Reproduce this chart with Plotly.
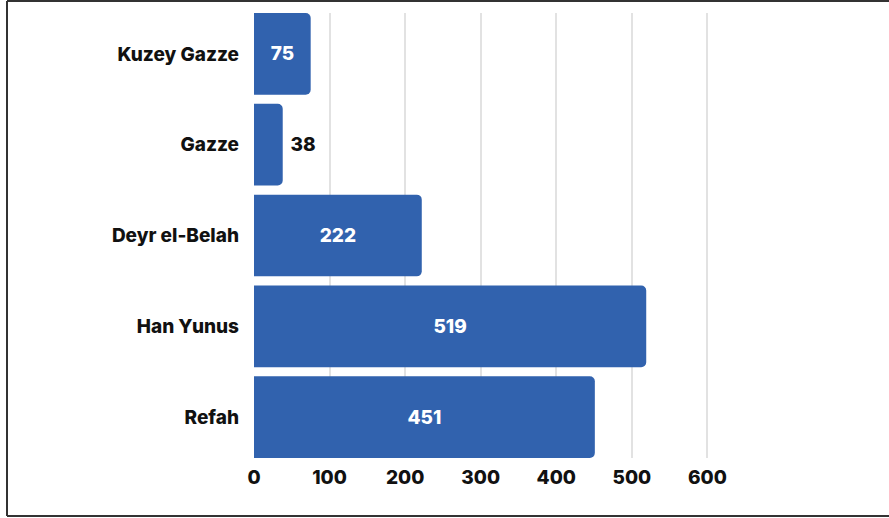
import plotly.graph_objects as go

regions = ["Kuzey Gazze", "Gazze", "Deyr el-Belah", "Han Yunus", "Refah"]
counts = [75, 38, 222, 519, 451]
tick_vals = [0, 100, 200, 300, 400, 500, 600]

W, H = 889, 518
ML, MR, MT, MB = 254, 174, 13, 60
BAR_COLOR = "#3162AE"
FONT = "Inter"
FS = 19
WT = 800

# small bars get their label outside, with a little gap
text_pos = ["outside" if v < 50 else "inside" for v in counts]
labels = [("\u2005" + str(v)) if p == "outside" else str(v) for v, p in zip(counts, text_pos)]

fig = go.Figure(go.Bar(
    x=counts, y=regions, orientation="h",
    marker=dict(color=BAR_COLOR, cornerradius=5, line=dict(width=0)),
    text=labels, textposition=text_pos, insidetextanchor="middle",
    insidetextfont=dict(color="white", size=FS, family=FONT, weight=WT),
    outsidetextfont=dict(color="#111111", size=FS, family=FONT, weight=WT),
    cliponaxis=False, hoverinfo="skip",
))

pw = W - ML - MR
ph = H - MT - MB


def px_x(p):
    return (p - ML) / pw


def px_y(p):
    return 1 - (p - MT) / ph


# thin frame around the chart (left, top, bottom)
frame = [((7, 1), (W, 1)), ((7, 1), (7, 516)), ((7, 516), (W, 516))]
shapes = [dict(type="line", xref="paper", yref="paper",
               x0=px_x(a[0]), y0=px_y(a[1]), x1=px_x(b[0]), y1=px_y(b[1]),
               line=dict(color="#333333", width=2), layer="above")
          for a, b in frame]

fig.update_layout(
    width=W, height=H, paper_bgcolor="white", plot_bgcolor="white",
    margin=dict(l=ML, r=MR, t=MT, b=MB), showlegend=False, bargap=0.1,
    font=dict(family=FONT, color="#111111", size=FS, weight=WT),
    xaxis=dict(range=[0, 610], tickvals=tick_vals, showgrid=True, gridcolor="#E2E2E2",
               gridwidth=2, zeroline=False, showline=False, ticks="", ticklabelstandoff=6,
               tickfont=dict(size=FS, family=FONT, weight=WT)),
    yaxis=dict(categoryorder="array", categoryarray=regions, autorange=False,
               range=[4.45, -0.45], showgrid=False, zeroline=False, showline=False,
               ticks="", ticklabelstandoff=14,
               tickfont=dict(size=FS, family=FONT, weight=WT)),
    shapes=shapes,
)

fig.write_html("out.html", config={"displayModeBar": False},
               post_script="document.body.style.margin='0';")
